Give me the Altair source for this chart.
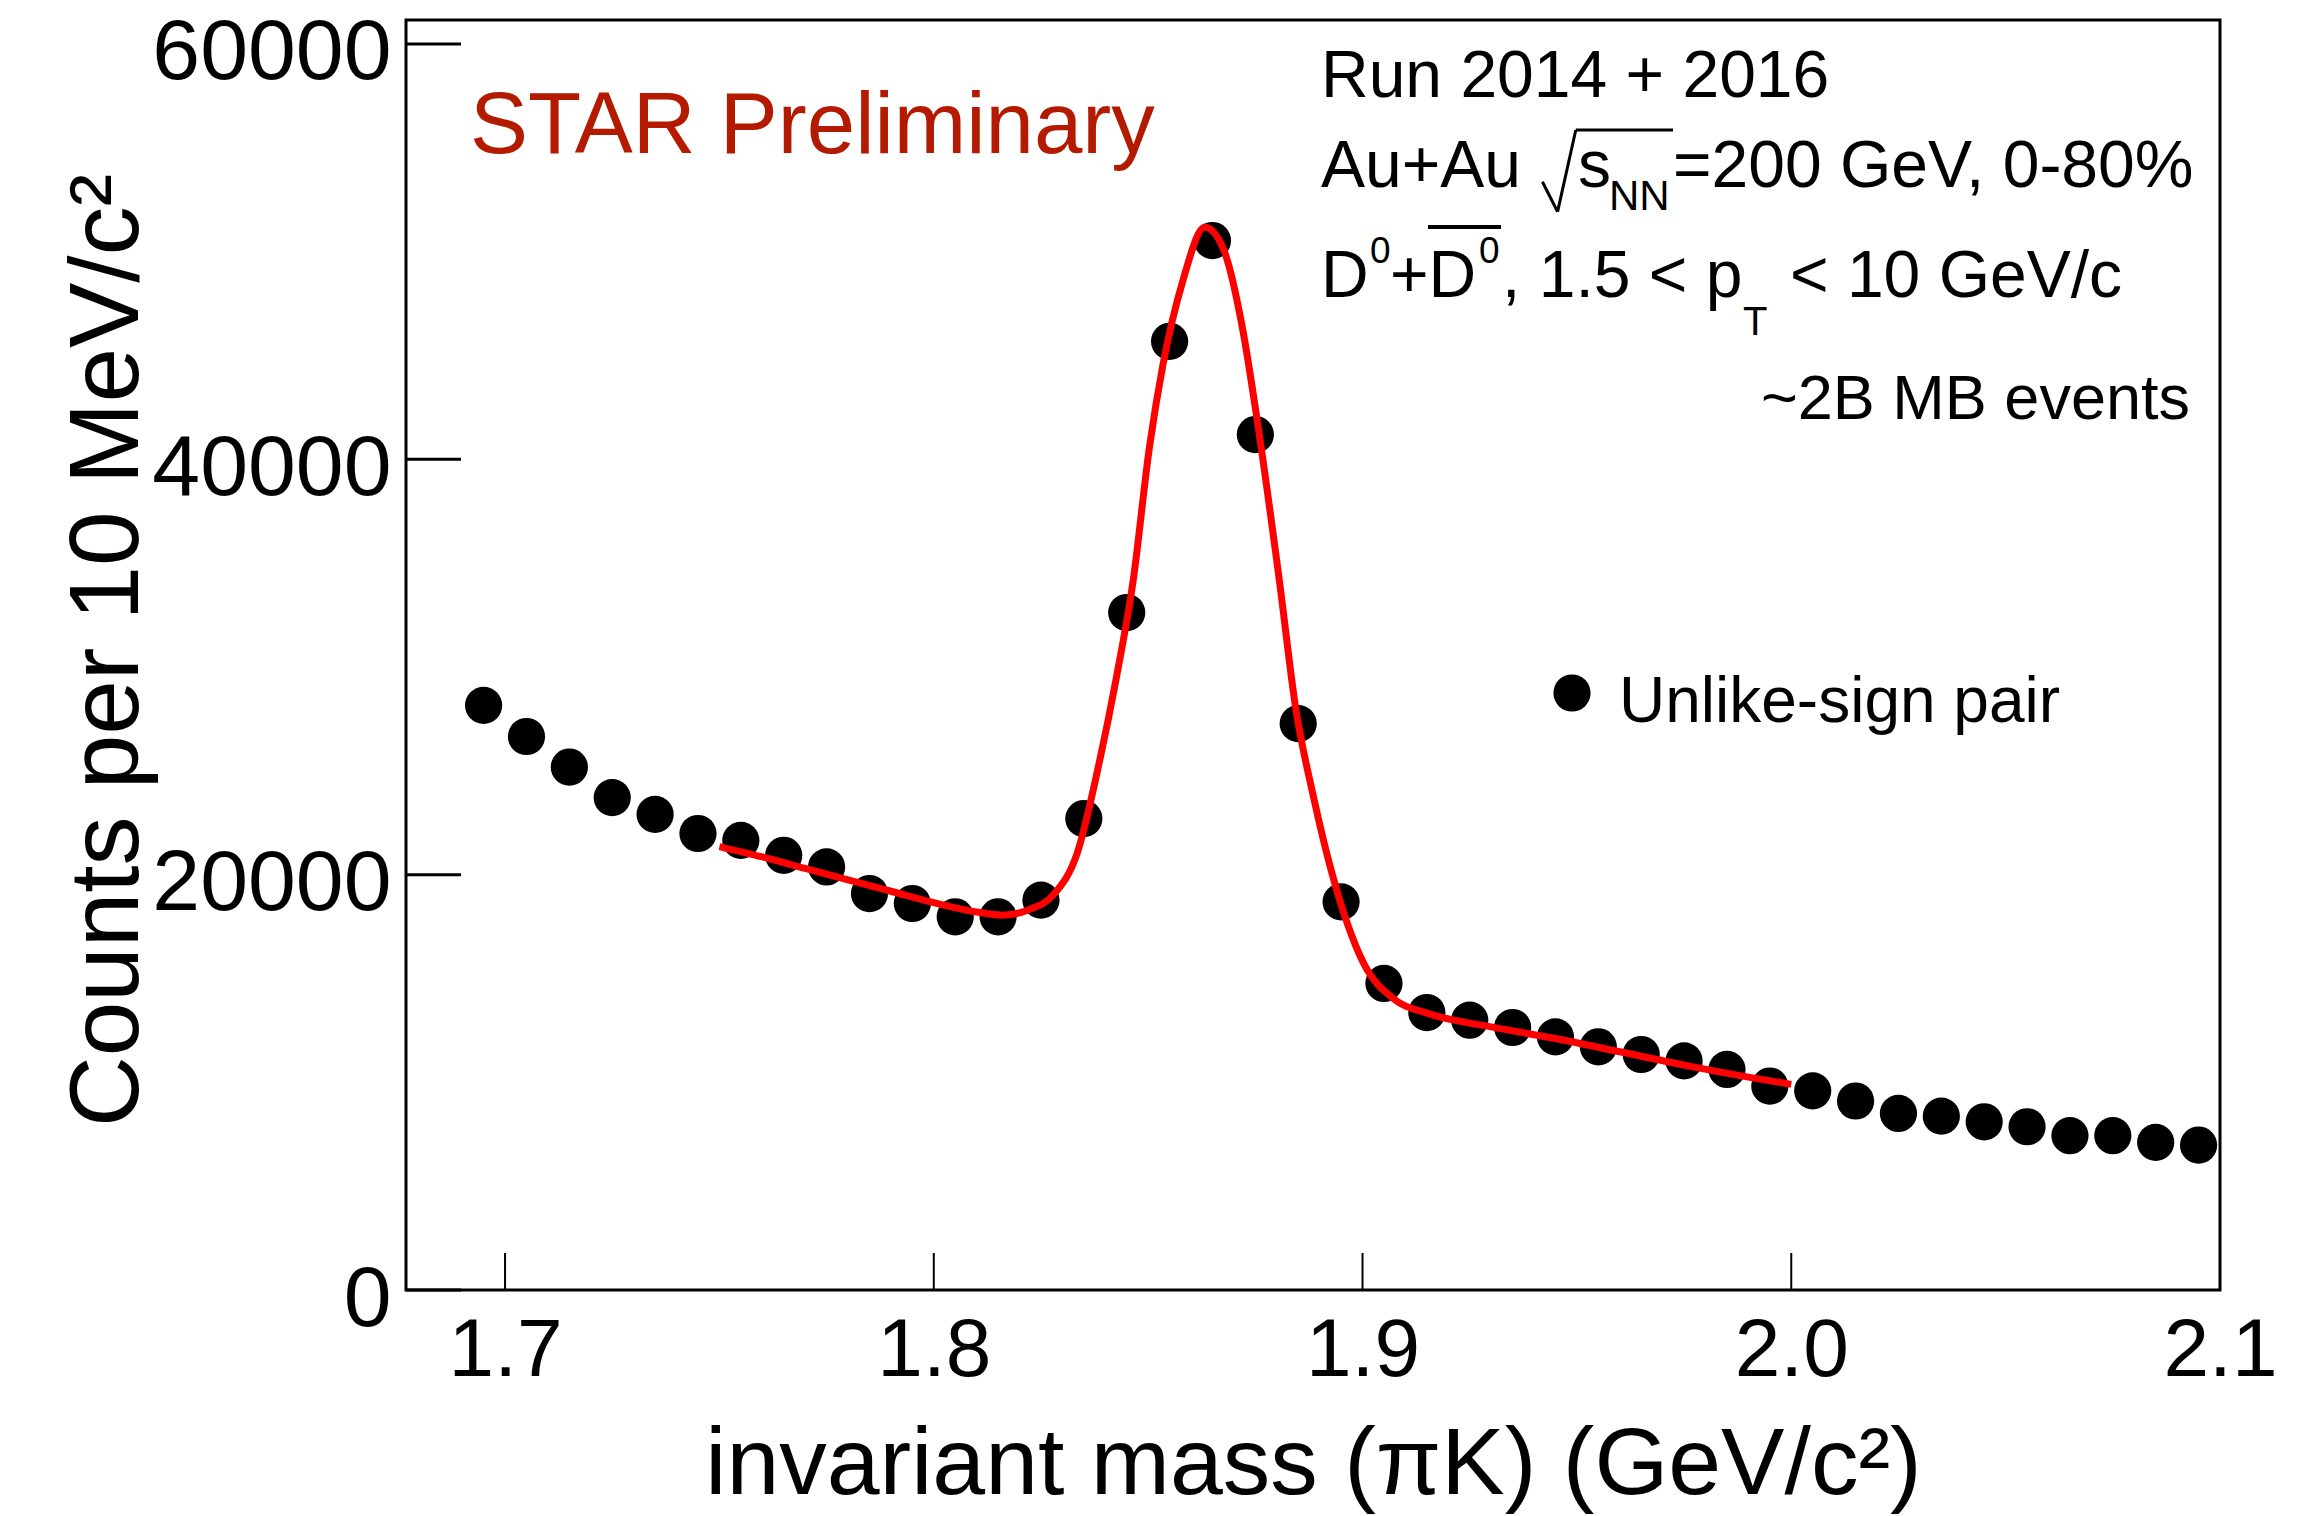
import altair as alt
import pandas as pd

# Unlike-sign pi-K pairs: bin centres (GeV/c^2) and counts per 10 MeV/c^2
MASS = [1.695, 1.705, 1.715, 1.725, 1.735, 1.745, 1.755, 1.765, 1.775, 1.785,
        1.795, 1.805, 1.815, 1.825, 1.835, 1.845, 1.855, 1.865, 1.875, 1.885,
        1.895, 1.905, 1.915, 1.925, 1.935, 1.945, 1.955, 1.965, 1.975, 1.985,
        1.995, 2.005, 2.015, 2.025, 2.035, 2.045, 2.055, 2.065, 2.075, 2.085,
        2.095]
COUNTS = [28150, 26650, 25180, 23710, 22900, 21980, 21650, 20930, 20370, 19090,
          18610, 17970, 17970, 18770, 22700, 32620, 45680, 50530, 41190, 27270,
          18690, 14760, 13360, 12990, 12640, 12190, 11710, 11340, 11030, 10620,
          9820, 9590, 9100, 8500, 8370, 8100, 7860, 7430, 7430, 7110,
          6980]

# Signal + background fit curve, sampled along the drawn line
FIT_MASS = [1.750, 1.760, 1.770, 1.780, 1.790, 1.800, 1.810, 1.816, 1.822, 1.828,
            1.8334, 1.8387, 1.8426, 1.8465, 1.8503, 1.8535, 1.8581, 1.8632, 1.8674,
            1.8721, 1.8752, 1.8806, 1.8845, 1.8884, 1.8931, 1.9001, 1.9077, 1.915,
            1.930, 1.945, 1.960, 1.975, 1.990, 2.000]
FIT_COUNTS = [21350, 20850, 20300, 19750, 19200, 18650, 18200, 18050, 18300, 19050,
              21000, 25500, 29500, 34150, 40580, 44600, 48600, 51170, 50200,
              46200, 42200, 34170, 27900, 23900, 19900, 15800, 13950, 13330,
              12670, 12110, 11470, 10830, 10250, 9900]

XTICKS = [1.7, 1.8, 1.9, 2.0, 2.1]
YTICKS = [0, 20000, 40000, 60000]
X_DOMAIN = [1.6769, 2.1]
Y_DOMAIN = [0, 61150]

FONT = "Liberation Sans"
W, H = 1814, 1270
STAR_RED = "#b31a00"

xs = alt.Scale(domain=X_DOMAIN, nice=False, zero=False)
ys = alt.Scale(domain=Y_DOMAIN, nice=False, zero=False)

x_axis = alt.Axis(
    values=XTICKS, format=".1f", title="invariant mass (πK) (GeV/c²)",
    domain=False, grid=False, ticks=False,
    labelFont=FONT, labelFontSize=82, labelColor="black", labelPadding=20,
    labelFlush=False, labelOverlap=False, labelLimit=0,
    titleFont=FONT, titleFontSize=95, titleFontWeight="normal", titleColor="black",
    titleX=907, titleY=203, titleAlign="center", titleBaseline="alphabetic",
    titleLimit=0,
)
y_axis = alt.Axis(
    values=YTICKS, format="d", title="Counts per 10 MeV/c²",
    domain=False, grid=False, ticks=False,
    labelFont=FONT, labelFontSize=86, labelColor="black", labelPadding=15,
    labelOffset=9, labelFlush=False, labelOverlap=False, labelLimit=0,
    titleFont=FONT, titleFontSize=98, titleFontWeight="normal", titleColor="black",
    titleX=-269, titleY=630, titleAlign="center", titleBaseline="alphabetic",
    titleLimit=0,
)

X = alt.X("mass:Q", scale=xs, axis=x_axis)
Y = alt.Y("counts:Q", scale=ys, axis=y_axis)

points = alt.Chart(pd.DataFrame({"mass": MASS, "counts": COUNTS})).mark_circle(
    size=1385, color="black", opacity=1
).encode(x=X, y=Y)

fit = alt.Chart(pd.DataFrame({"mass": FIT_MASS, "counts": FIT_COUNTS})).mark_line(
    color="#ff0000", strokeWidth=7, interpolate="monotone"
).encode(x=X, y=Y)

# ROOT-style inward ticks
x_ticks = alt.Chart(pd.DataFrame({"mass": XTICKS})).mark_rule(
    color="black", strokeWidth=2
).encode(x=X, y=alt.value(H), y2=alt.value(H - 37))

y_ticks = alt.Chart(pd.DataFrame({"counts": YTICKS})).mark_rule(
    color="black", strokeWidth=3
).encode(y=Y, x=alt.value(0), x2=alt.value(55))

ONE = alt.Data(values=[{}])


def label(text, x, y, size, color="black", align="left"):
    return alt.Chart(ONE).mark_text(
        font=FONT, fontSize=size, color=color, align=align, baseline="alphabetic"
    ).encode(x=alt.value(x), y=alt.value(y), text=alt.value(text))


def stroke(x1, y1, x2, y2, width):
    return alt.Chart(ONE).mark_rule(color="black", strokeWidth=width).encode(
        x=alt.value(x1), y=alt.value(y1), x2=alt.value(x2), y2=alt.value(y2)
    )


notes = [
    label("STAR Preliminary", 64, 133, 87, color=STAR_RED),
    label("Run 2014 + 2016", 915, 77, 66),
    # Au+Au sqrt(s_NN)=200 GeV, 0-80%
    label("Au+Au", 915, 167, 66),
    stroke(1136.4, 161.7, 1151.6, 191.7, 3),
    stroke(1151.6, 191.7, 1169.8, 110, 3),
    stroke(1169.8, 110, 1267, 110, 3),
    label("s", 1172, 167, 66),
    label("NN", 1203, 190, 42),
    label("=200 GeV, 0-80%", 1267, 167, 66),
    # D0 + D0bar, 1.5 < pT < 10 GeV/c
    label("D", 915, 277, 66),
    label("0", 964, 243, 37),
    label("+D", 984, 277, 66),
    label("0", 1073, 243, 37),
    stroke(1022, 207, 1095, 207, 4),
    label(", 1.5 < p", 1096, 277, 66),
    label("T", 1337, 315, 40),
    label("< 10 GeV/c", 1384, 277, 66),
    label("~2B MB events", 1784, 399, 63, align="right"),
    # legend entry
    alt.Chart(ONE).mark_circle(size=1385, color="black", opacity=1).encode(
        x=alt.value(1166), y=alt.value(673)
    ),
    label("Unlike-sign pair", 1213, 702, 64),
]

chart = alt.layer(points, fit, x_ticks, y_ticks, *notes).properties(
    width=W,
    height=H,
    padding={"left": 406, "top": 20, "right": 84, "bottom": 226},
    autosize=alt.AutoSizeParams(type="none"),
    background="white",
).configure_view(stroke="black", strokeWidth=3)

chart.save("out.html", embed_options={"renderer": "svg", "actions": False})
